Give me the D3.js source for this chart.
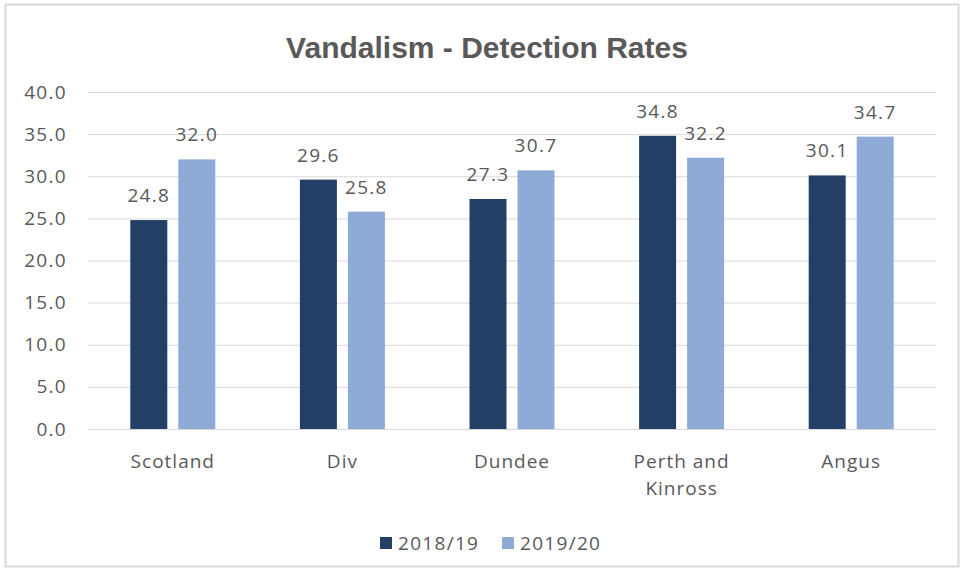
<!DOCTYPE html>
<html><head><meta charset="utf-8">
<script src="https://cdn.jsdelivr.net/npm/d3@7"></script>
<style>body{margin:0;background:#fff;} text{font-family:"Open Sans","Noto Sans",sans-serif;}</style>
</head><body>
<svg id="c" width="965" height="578"></svg>
<script>
const categories = ["Scotland","Div","Dundee","Perth and Kinross","Angus"];
const categoryLines = [["Scotland"],["Div"],["Dundee"],["Perth and","Kinross"],["Angus"]];
const seriesNames = ["2018/19","2019/20"];
const values1819 = [24.8, 29.6, 27.3, 34.8, 30.1];
const values1920 = [32.0, 25.8, 30.7, 32.2, 34.7];
const yTicks = [0,5,10,15,20,25,30,35,40];
const colors = ["#243f66","#8eaad6"];

const svg = d3.select("#c");
svg.append("rect").attr("x",5.5).attr("y",4.5).attr("width",953).attr("height",562)
  .attr("fill","#fff").attr("stroke","#d9d9d9").attr("stroke-width",2);

const m = {l:88, r:936, t:92, b:429};
const x = d3.scaleBand().domain(categories).range([m.l, m.r]);
const y = d3.scaleLinear().domain([0,40]).range([m.b, m.t]);
const bw = 37, gap = 11;
const xs = d3.scaleOrdinal().domain(seriesNames).range([-(bw+gap/2), gap/2]);
const ls = "1.3px";

svg.append("text").attr("x",487).attr("y",58).attr("text-anchor","middle")
  .style("font-family","'Liberation Sans',Arial,sans-serif")
  .attr("font-weight","bold").attr("font-size",30).attr("fill","#595959")
  .text("Vandalism - Detection Rates");

const yAxis = d3.axisLeft(y).tickValues(yTicks).tickSize(-(m.r-m.l)).tickFormat(d3.format(".1f"));
const ga = svg.append("g").attr("transform",`translate(${m.l},0)`).call(yAxis);
ga.select(".domain").remove();
ga.selectAll(".tick line").attr("stroke","#d9d9d9").attr("stroke-width",1);
ga.selectAll(".tick text").attr("x",-21).attr("fill","#595959").attr("font-size",19)
  .style("letter-spacing",ls)
  .style("font-family","'Open Sans','Noto Sans',sans-serif");

const data = seriesNames.map((s,i)=>({s, vals: i===0?values1819:values1920, c: colors[i]}));
data.forEach(ser=>{
  const g = svg.append("g");
  g.selectAll("rect").data(categories).join("rect")
    .attr("x",c=>x(c)+x.bandwidth()/2+xs(ser.s))
    .attr("width",bw)
    .attr("y",(c,i)=>y(ser.vals[i]))
    .attr("height",(c,i)=>y(0)-y(ser.vals[i]))
    .attr("fill",ser.c);
  g.selectAll("text").data(categories).join("text")
    .attr("x",c=>x(c)+x.bandwidth()/2+xs(ser.s)+bw/2)
    .attr("y",(c,i)=>y(ser.vals[i])-18)
    .attr("text-anchor","middle").attr("font-size",19).attr("fill","#595959")
    .style("letter-spacing",ls)
    .text((c,i)=>ser.vals[i].toFixed(1));
});

categories.forEach((c,i)=>{
  const t = svg.append("text").attr("x",x(c)+x.bandwidth()/2).attr("y",468)
    .attr("text-anchor","middle").attr("font-size",19).attr("fill","#595959").style("letter-spacing","1px");
  categoryLines[i].forEach((ln,j)=>t.append("tspan").attr("x",x(c)+x.bandwidth()/2).attr("dy",j?27:0).text(ln));
});

const lg = svg.append("g");
const lx = [380, 502];
seriesNames.forEach((s,i)=>{
  lg.append("rect").attr("x",lx[i]).attr("y",537).attr("width",12).attr("height",12).attr("fill",colors[i]);
  lg.append("text").attr("x",lx[i]+18).attr("y",550).attr("font-size",19).attr("fill","#595959")
    .style("letter-spacing",ls).text(s);
});
</script>
</body></html>
